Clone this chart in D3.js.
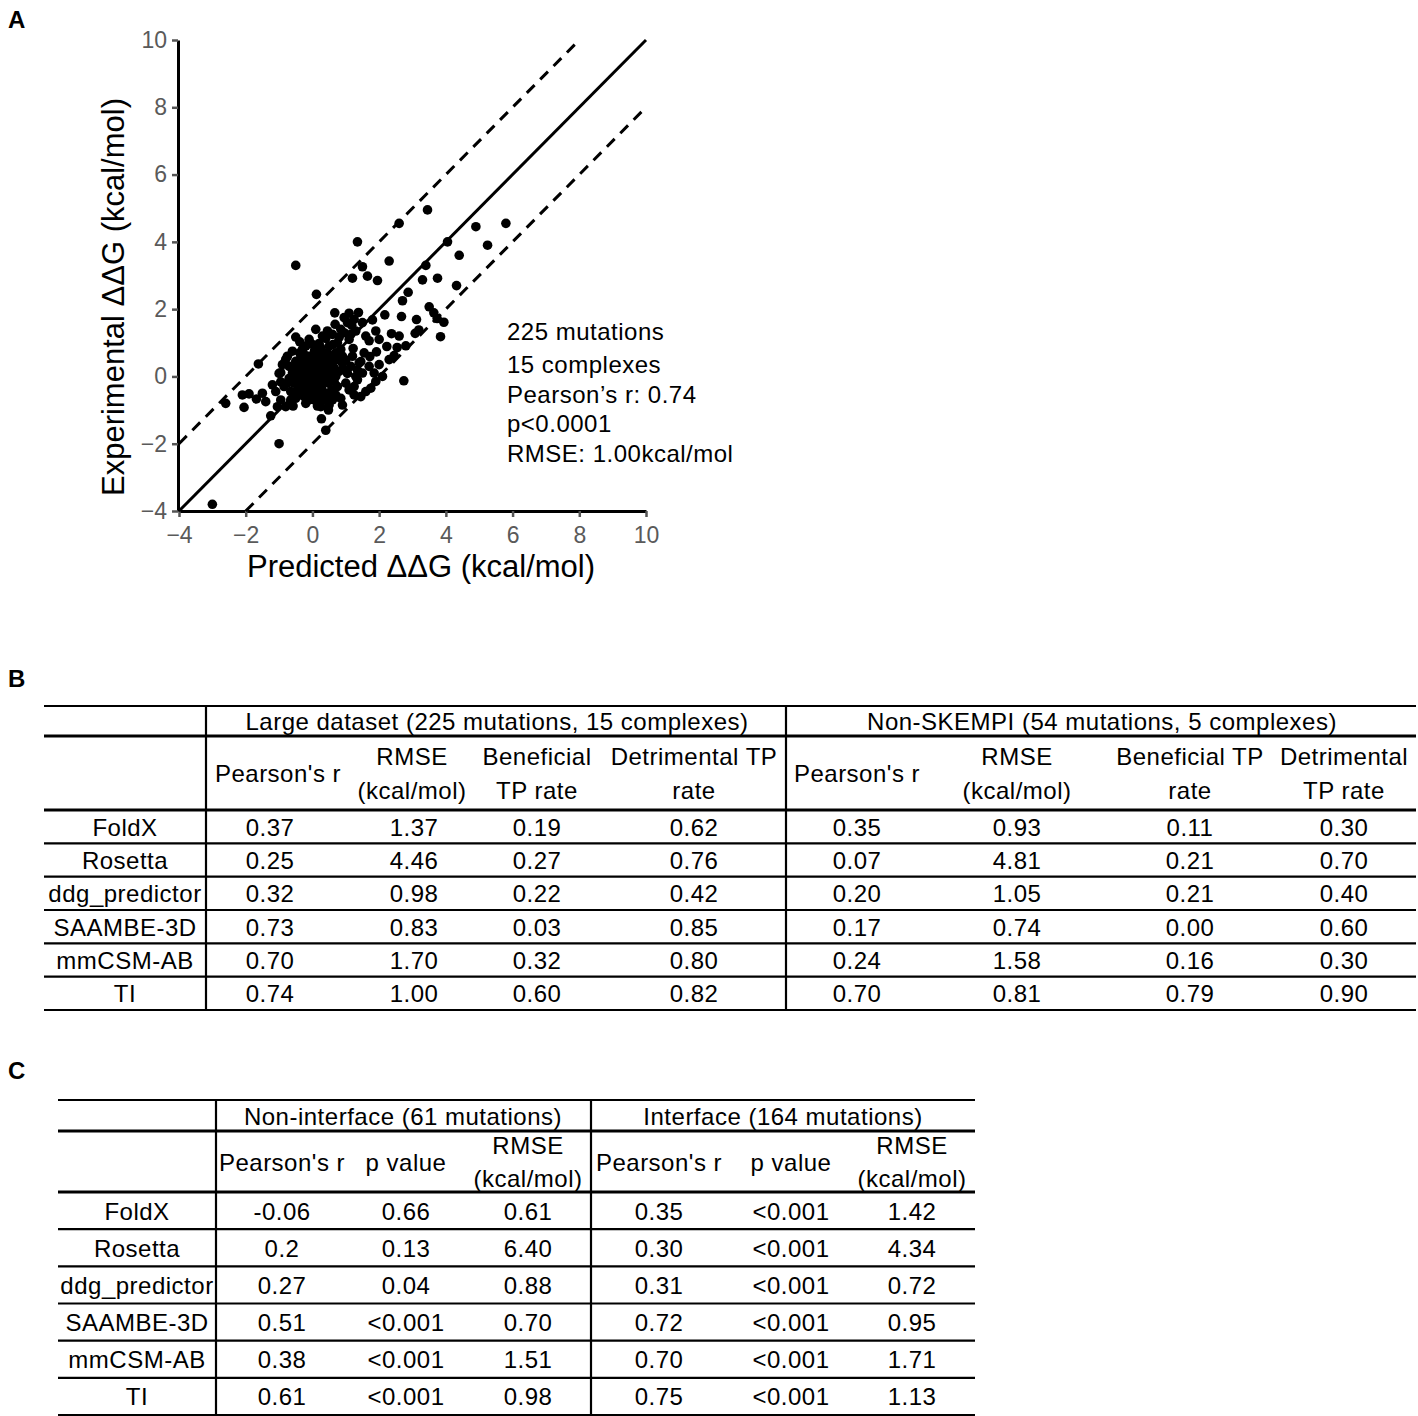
<!DOCTYPE html>
<html>
<head>
<meta charset="utf-8">
<script src="https://cdn.jsdelivr.net/npm/d3@7"></script>
<style>
  body { margin: 0; background: #fff; }
  text { font-family: "Liberation Sans", Arial, Helvetica, sans-serif; }
</style>
</head>
<body>
<svg id="fig" width="1418" height="1416"></svg>
<script>
// ---------- panel A: predicted vs experimental ddG (kcal/mol)
const mutationPoints = [
  [-3.0, -3.8], [-0.5, 3.3], [-1.0, -2.0], [1.35, 4.0], [3.45, 4.95], [2.6, 4.55],
  [4.9, 4.45], [5.8, 4.55], [5.25, 3.9], [4.05, 4.0], [2.3, 3.43], [4.4, 3.6],
  [1.5, 3.26], [1.2, 2.92], [1.65, 2.98], [1.95, 2.85], [3.4, 3.3], [3.3, 2.87],
  [3.75, 2.92], [4.32, 2.7], [2.87, 2.5], [2.7, 2.25], [3.5, 2.07], [3.64, 1.89],
  [3.74, 1.72], [3.94, 1.61], [3.84, 1.18], [2.17, 1.83], [2.67, 1.78], [3.12, 1.69],
  [1.8, 1.68], [2.37, 1.27], [3.08, 1.28], [3.19, 1.38], [1.7, 1.06], [2.23, 0.89],
  [2.54, 0.86], [2.8, 0.91], [1.92, 0.73], [2.45, 0.62], [1.72, 0.59], [2.74, -0.13],
  [0.12, 2.44], [0.67, 1.89], [1.1, 1.88], [1.38, 1.9], [0.68, 1.55], [0.1, 1.4],
  [1.18, 1.52], [-0.5, 1.17], [-0.38, 1.03], [-0.38, 0.7], [-1.62, 0.37], [-0.8, 0.51],
  [0.2, 0.98], [0.4, 1.13], [0.8, 1.16], [1.1, 1.1], [1.22, 0.83], [1.4, 0.4],
  [0.9, 0.39], [0.5, 0.59], [-1.0, 0.09], [-1.9, -0.52], [-2.1, -0.55], [-2.6, -0.8],
  [-2.05, -0.92], [-1.68, -0.67], [-1.4, -0.75], [-1.1, -0.45], [-0.95, -0.7], [-1.25, -1.17],
  [-0.8, -0.9], [-0.58, -0.88], [-0.95, 0.11], [-0.95, -0.16], [-0.7, -0.06], [0.27, -1.26],
  [0.15, -0.88], [1.45, 0.44], [1.0, 0.49], [1.6, -0.45], [1.1, -0.4], [0.85, -0.65],
  [0.9, -0.85], [0.48, -1.0], [0.4, -1.6], [1.35, -0.1], [1.05, 0.09], [0.7, 0.0],
  [1.0, -0.2], [1.35, 0.19], [0.6, -0.7], [-0.3, -0.55],
  [-0.7, 0.3], [-0.6, 0.1], [-0.55, -0.2], [-0.5, 0.45], [-0.45, -0.4], [-0.42, 0.2],
  [-0.4, -0.05], [-0.35, 0.55], [-0.32, -0.25], [-0.3, 0.1], [-0.28, 0.35], [-0.25, -0.6],
  [-0.22, -0.15], [-0.2, 0.05], [-0.18, 0.25], [-0.15, -0.35], [-0.12, 0.6], [-0.1, -0.1],
  [-0.08, 0.15], [-0.05, 0.4], [-0.03, -0.25], [0.0, 0.0], [0.02, 0.2], [0.04, -0.45],
  [0.06, 0.75], [0.08, -0.05], [0.1, 0.3], [0.12, -0.2], [0.14, 0.1], [0.16, 0.5],
  [0.18, -0.65], [0.2, -0.1], [0.22, 0.2], [0.25, 0.85], [0.27, -0.35], [0.3, 0.05],
  [0.32, 0.4], [0.35, -0.15], [0.38, 0.65], [0.4, -0.5], [0.42, 0.15], [0.45, 0.3],
  [0.48, -0.2], [0.5, 0.9], [0.55, 0.1], [0.58, -0.4], [0.6, 0.45], [0.65, 0.25],
  [0.7, 0.7], [0.75, -0.3], [0.8, 0.15], [-0.65, -0.45], [-0.75, 0.6], [-0.85, -0.3],
  [-0.6, 0.75], [-0.5, -0.65], [-0.3, 0.8], [-0.2, -0.8], [0.0, 0.95], [0.05, -0.7],
  [-0.15, 0.45], [0.15, -0.4], [0.28, 0.6], [-0.38, -0.5], [0.35, -0.7], [0.55, -0.6],
  [0.62, 0.95], [0.72, 0.5], [0.85, 0.8], [0.9, 0.6], [0.95, 1.3], [0.6, 1.25],
  [0.3, 1.2], [-0.1, 1.1], [-0.2, 0.9], [0.45, 1.35], [0.85, 1.4], [1.15, 1.25],
  [1.25, 1.7], [1.3, 1.35], [1.05, 1.6], [0.95, 1.75], [1.2, 0.6], [1.3, 0.0],
  [1.5, 0.1], [1.55, 0.7], [1.7, 0.3], [1.85, 0.1], [1.9, -0.15], [2.1, 0.0],
  [1.25, -0.3], [1.45, -0.6], [1.75, -0.35], [2.0, 0.35], [0.7, -0.55], [0.25, -0.9],
  [-0.1, -0.45], [-0.25, -0.3], [0.1, 0.55], [-0.45, 0.0], [-0.6, -0.1], [0.4, 0.45],
  [0.5, -0.05], [0.2, 0.35], [-0.05, 0.12], [0.08, -0.3], [0.3, -0.45], [-0.35, 0.3],
  [0.18, 0.7], [0.65, -0.15], [2.3, 0.5], [1.6, 1.2], [2.0, 1.1], [0.5, -0.85],
  [-0.75, -0.2], [-1.2, -0.25], [-0.9, 0.35], [1.9, 1.35], [2.6, 1.2], [-1.5, -0.5],
  [0.0, -0.6], [0.45, 0.7], [-0.15, -0.55], [1.5, 1.6], [0.75, 1.0],
  [-0.55, 0.3], [-0.25, 0.65], [0.05, 0.5], [0.35, 0.2], [-0.1, -0.7], [0.6, 0.05],
  [1.15, 0.3], [1.25, -0.55], [0.95, 0.2], [-0.65, -0.7], [-1.05, -0.9], [0.25, -0.05]
];
const axisTicks = [-4, -2, 0, 2, 4, 6, 8, 10];
const statsLines = ["225 mutations", "15 complexes", "Pearson’s r: 0.74", "p<0.0001", "RMSE: 1.00kcal/mol"];
const identityOffsets = [0, 2, -2]; // y = x + offset

// ---------- tables
const methods = ["FoldX", "Rosetta", "ddg_predictor", "SAAMBE-3D", "mmCSM-AB", "TI"];

const largeTitle = "Large dataset (225 mutations, 15 complexes)";
const largeHeaders = [["Pearson's r"], ["RMSE", "(kcal/mol)"], ["Beneficial", "TP rate"], ["Detrimental TP", "rate"]];
const largePearson = ["0.37", "0.25", "0.32", "0.73", "0.70", "0.74"];
const largeRmse = ["1.37", "4.46", "0.98", "0.83", "1.70", "1.00"];
const largeBenTP = ["0.19", "0.27", "0.22", "0.03", "0.32", "0.60"];
const largeDetTP = ["0.62", "0.76", "0.42", "0.85", "0.80", "0.82"];

const skempiTitle = "Non-SKEMPI (54 mutations, 5 complexes)";
const skempiHeaders = [["Pearson's r"], ["RMSE", "(kcal/mol)"], ["Beneficial TP", "rate"], ["Detrimental", "TP rate"]];
const skempiPearson = ["0.35", "0.07", "0.20", "0.17", "0.24", "0.70"];
const skempiRmse = ["0.93", "4.81", "1.05", "0.74", "1.58", "0.81"];
const skempiBenTP = ["0.11", "0.21", "0.21", "0.00", "0.16", "0.79"];
const skempiDetTP = ["0.30", "0.70", "0.40", "0.60", "0.30", "0.90"];

const nonIfaceTitle = "Non-interface (61 mutations)";
const ifaceTitle = "Interface (164 mutations)";
const ifaceHeaders = [["Pearson's r"], ["p value"], ["RMSE", "(kcal/mol)"]];
const nonIfacePearson = ["-0.06", "0.2", "0.27", "0.51", "0.38", "0.61"];
const nonIfaceP = ["0.66", "0.13", "0.04", "<0.001", "<0.001", "<0.001"];
const nonIfaceRmse = ["0.61", "6.40", "0.88", "0.70", "1.51", "0.98"];
const ifacePearson = ["0.35", "0.30", "0.31", "0.72", "0.70", "0.75"];
const ifaceP = ["<0.001", "<0.001", "<0.001", "<0.001", "<0.001", "<0.001"];
const ifaceRmse = ["1.42", "4.34", "0.72", "0.95", "1.71", "1.13"];

// ---------- layout
const FONT = 24;
const SPACING = "0.5px";
const svg = d3.select("#fig");

// panel letters
[["A", 28], ["B", 687], ["C", 1079]].forEach(([t, y]) =>
  svg.append("text").attr("x", 8).attr("y", y).attr("font-size", 24)
    .attr("font-weight", "bold").text(t));

// ---------- panel A scatter
const x = d3.scaleLinear().domain([-4, 10]).range([179, 646]);
const y = d3.scaleLinear().domain([-4, 10]).range([511, 40]);
const plot = svg.append("g");

const styleAxis = (g) => {
  g.select(".domain").attr("stroke", "#000").attr("stroke-width", 3);
  g.selectAll(".tick line").attr("stroke", "#555").attr("stroke-width", 2.5);
  g.selectAll(".tick text").attr("fill", "#5a5a5a").attr("font-size", 23)
    .attr("font-family", "Liberation Sans, Arial, sans-serif");
};
const fmt = (d) => (d < 0 ? "\u2212" + Math.abs(d) : String(d));

plot.append("g").attr("transform", "translate(0,511)")
  .call(d3.axisBottom(x).tickValues(axisTicks).tickFormat(fmt).tickSize(6).tickSizeOuter(0).tickPadding(10))
  .call(styleAxis);
plot.append("g").attr("transform", "translate(178,0)")
  .call(d3.axisLeft(y).tickValues(axisTicks).tickFormat(fmt).tickSize(6).tickSizeOuter(0).tickPadding(5))
  .call(styleAxis);

// reference lines y = x, y = x +/- 2, clipped to the plot box
identityOffsets.forEach((off) => {
  const x0 = Math.max(-4, -4 - off), x1 = Math.min(10, 10 - off);
  plot.append("line")
    .attr("x1", x(x0)).attr("y1", y(x0 + off))
    .attr("x2", x(x1)).attr("y2", y(x1 + off))
    .attr("stroke", "#000").attr("stroke-width", 3)
    .attr("stroke-dasharray", off === 0 ? null : "11,8");
});

plot.append("g").selectAll("circle").data(mutationPoints).join("circle")
  .attr("cx", (d) => x(d[0])).attr("cy", (d) => y(d[1])).attr("r", 4.8).attr("fill", "#000");

plot.append("text").attr("x", 421).attr("y", 577).attr("text-anchor", "middle")
  .attr("font-size", 31).text("Predicted \u0394\u0394G (kcal/mol)");
plot.append("text").attr("transform", "translate(124,297) rotate(-90)").attr("text-anchor", "middle")
  .attr("font-size", 31).text("Experimental \u0394\u0394G (kcal/mol)");

plot.append("g").selectAll("text").data(statsLines).join("text")
  .attr("x", 507).attr("y", (d, i) => [340, 373, 403, 432, 462][i])
  .attr("font-size", FONT).attr("letter-spacing", SPACING).text((d) => d);

// ---------- generic table
function drawTable(cfg) {
  const g = svg.append("g");
  const row = d3.scaleBand().domain(methods).range([cfg.bodyTop, cfg.bottom]);
  const col = d3.scaleOrdinal().domain(d3.range(cfg.columns.length)).range(cfg.colX);
  const rules = [cfg.top, cfg.groupLine, ...methods.map((m) => row(m)), cfg.bottom];

  g.selectAll("line.h").data(rules).join("line").attr("class", "h")
    .attr("x1", cfg.left).attr("x2", cfg.right)
    .attr("y1", (d) => d).attr("y2", (d) => d)
    .attr("stroke", "#000").attr("stroke-width", (d, i) => (i === 1 || i === 2 ? 3 : 2.2));
  g.selectAll("line.v").data(cfg.dividers).join("line").attr("class", "v")
    .attr("x1", (d) => d).attr("x2", (d) => d)
    .attr("y1", cfg.top).attr("y2", cfg.bottom)
    .attr("stroke", "#000").attr("stroke-width", 2.2);

  const txt = (sel) => sel.attr("font-size", FONT).attr("letter-spacing", SPACING).attr("text-anchor", "middle");

  // group titles
  g.selectAll("text.grp").data(cfg.groups).join("text").attr("class", "grp").call(txt)
    .attr("x", (d) => d.cx).attr("y", (cfg.top + cfg.groupLine) / 2 + 9).text((d) => d.title);

  // column headers (one or two lines)
  const mid = (cfg.groupLine + cfg.bodyTop) / 2;
  cfg.columns.forEach((c, i) => {
    const lines = c.header;
    lines.forEach((ln, j) => {
      const dy = lines.length === 1 ? 0 : (j === 0 ? -cfg.lineGap / 2 : cfg.lineGap / 2);
      g.append("text").call(txt).attr("x", c.headX || col(i)).attr("y", mid + dy + 9).text(ln);
    });
  });

  // row labels + cells
  const bw = row.bandwidth();
  g.selectAll("text.lab").data(methods).join("text").attr("class", "lab").call(txt)
    .attr("x", cfg.labelX).attr("y", (m) => row(m) + bw / 2 + 9).text((m) => m);
  cfg.columns.forEach((c, i) => {
    g.append("g").selectAll("text").data(c.values).join("text").call(txt)
      .attr("x", col(i)).attr("y", (v, k) => row(methods[k]) + bw / 2 + 9).text((v) => v);
  });
}

drawTable({
  left: 44, right: 1416, top: 706, groupLine: 736, bodyTop: 810, bottom: 1010,
  dividers: [206, 786], labelX: 125, lineGap: 34,
  colX: [270, 414, 537, 694, 857, 1017, 1190, 1344],
  groups: [{ title: largeTitle, cx: 497 }, { title: skempiTitle, cx: 1102 }],
  columns: [
    { header: largeHeaders[0], values: largePearson, headX: 278 },
    { header: largeHeaders[1], values: largeRmse, headX: 412 },
    { header: largeHeaders[2], values: largeBenTP },
    { header: largeHeaders[3], values: largeDetTP },
    { header: skempiHeaders[0], values: skempiPearson },
    { header: skempiHeaders[1], values: skempiRmse },
    { header: skempiHeaders[2], values: skempiBenTP },
    { header: skempiHeaders[3], values: skempiDetTP }
  ]
});

drawTable({
  left: 58, right: 975, top: 1100, groupLine: 1131, bodyTop: 1192, bottom: 1415,
  dividers: [216, 591], labelX: 137, lineGap: 33,
  colX: [282, 406, 528, 659, 791, 912],
  groups: [{ title: nonIfaceTitle, cx: 403 }, { title: ifaceTitle, cx: 783 }],
  columns: [
    { header: ifaceHeaders[0], values: nonIfacePearson },
    { header: ifaceHeaders[1], values: nonIfaceP },
    { header: ifaceHeaders[2], values: nonIfaceRmse },
    { header: ifaceHeaders[0], values: ifacePearson },
    { header: ifaceHeaders[1], values: ifaceP },
    { header: ifaceHeaders[2], values: ifaceRmse }
  ]
});
</script>
</body>
</html>
